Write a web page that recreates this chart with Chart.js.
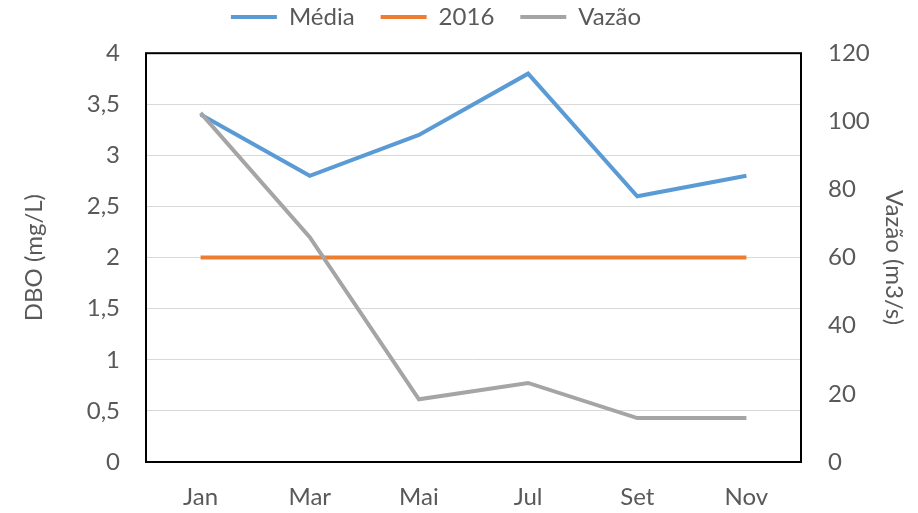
<!DOCTYPE html>
<html>
<head>
<meta charset="utf-8">
<script src="https://cdn.jsdelivr.net/npm/chart.js@4.4.1/dist/chart.umd.min.js"></script>
<style>
  html, body { margin: 0; padding: 0; background: #fff; }
  #wrap { width: 918px; height: 513px; }
</style>
</head>
<body>
<div id="wrap"><canvas id="chart"></canvas></div>
<script>
// chart data
const months = ['Jan', 'Mar', 'Mai', 'Jul', 'Set', 'Nov'];
const media = [3.4, 2.8, 3.2, 3.8, 2.6, 2.8];
const ref2016 = [2, 2, 2, 2, 2, 2];
const vazao = [102.5, 66, 18.4, 23.2, 12.9, 12.9];
const dboTicks = ['0', '0,5', '1', '1,5', '2', '2,5', '3', '3,5', '4'];
const vazaoTicks = ['0', '20', '40', '60', '80', '100', '120'];

const textColor = '#595959';
const font = { family: 'Lato', size: 24 };

// black frame round the plot area, legend nudged left like the original
const frame = {
    id: 'frame',
    afterLayout(chart) {
        if (chart.legend) {
            chart.legend.left -= 23;
            chart.legend.right -= 23;
        }
    },
    afterDatasetsDraw(chart) {
        const a = chart.chartArea;
        const ctx = chart.ctx;
        ctx.save();
        ctx.strokeStyle = '#000';
        ctx.lineWidth = 2;
        ctx.strokeRect(a.left, a.top, a.right - a.left, a.bottom - a.top);
        ctx.restore();
    }
};

function line(label, data, color, axis, order) {
    return {
        label: label,
        data: data,
        borderColor: color,
        backgroundColor: color,
        borderWidth: 4,
        pointRadius: 0,
        tension: 0,
        yAxisID: axis,
        order: order
    };
}

new Chart(document.getElementById('chart'), {
    type: 'line',
    data: {
        labels: months,
        datasets: [
            line('Média', media, '#5B9BD5', 'y', 2),
            line('2016', ref2016, '#ED7D31', 'y', 1),
            line('Vazão', vazao, '#A5A5A5', 'y1', 0)
        ]
    },
    options: {
        responsive: true,
        maintainAspectRatio: false,
        animation: false,
        layout: { padding: { top: -21, left: 0, right: 0, bottom: 0 } },
        plugins: {
            tooltip: { enabled: false },
            legend: {
                position: 'top',
                labels: {
                    color: textColor,
                    font: font,
                    usePointStyle: true,
                    pointStyle: 'line',
                    pointStyleWidth: 46,
                    padding: 26,
                    sort: (a, b) => a.datasetIndex - b.datasetIndex
                }
            },
            // empty spacer between legend and plot
            subtitle: {
                display: true,
                text: ' ',
                weight: 500,
                font: { size: 1 },
                padding: { top: 13, bottom: 0 }
            }
        },
        scales: {
            x: {
                offset: true,
                grid: { display: false, drawTicks: false },
                border: { display: false },
                ticks: { color: textColor, font: font, padding: 21, maxRotation: 0 },
                afterFit(s) { s.height = 51; }
            },
            y: {
                position: 'left',
                min: 0,
                max: 4,
                grid: { color: '#D9D9D9', lineWidth: 1, drawTicks: false },
                border: { display: false },
                ticks: {
                    stepSize: 0.5,
                    color: textColor,
                    font: font,
                    padding: 26,
                    callback: (v, i) => dboTicks[i]
                },
                title: {
                    display: true,
                    text: 'DBO (mg/L)',
                    color: textColor,
                    font: font,
                    padding: { top: 20, bottom: 0 }
                },
                afterFit(s) { s.width = 146; }
            },
            y1: {
                position: 'right',
                min: 0,
                max: 120,
                grid: { display: false, drawTicks: false },
                border: { display: false },
                ticks: {
                    stepSize: 20,
                    color: textColor,
                    font: font,
                    padding: 27,
                    callback: (v, i) => vazaoTicks[i]
                },
                title: {
                    display: true,
                    text: 'Vazão (m3/s)',
                    color: textColor,
                    font: font,
                    padding: { top: 10, bottom: 0 }
                },
                afterFit(s) { s.width = 117; }
            }
        }
    },
    plugins: [frame]
});
</script>
</body>
</html>
